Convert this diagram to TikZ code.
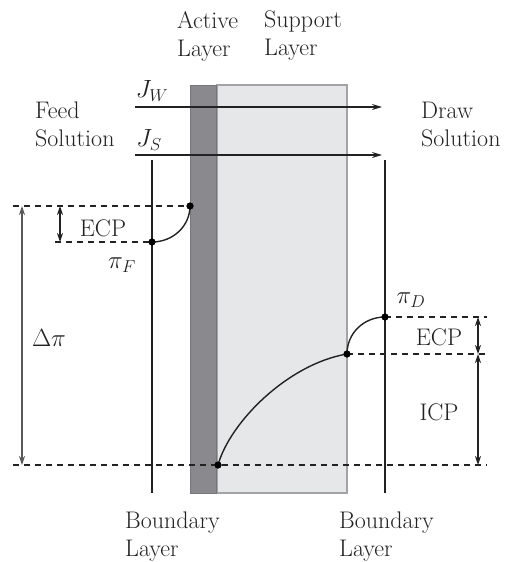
\documentclass[tikz,border=0pt]{standalone}
\usetikzlibrary{arrows.meta}
\definecolor{activegray}{HTML}{8A8A8E}
\definecolor{activeedge}{HTML}{77777B}
\definecolor{supportgray}{HTML}{E6E7E9}
\definecolor{supportedge}{HTML}{A3A3A6}
\definecolor{inkdark}{HTML}{222222}
\begin{document}
\begin{tikzpicture}[x=1pt,y=-1pt,
  lbl/.style={inner sep=0pt,font=\fontsize{24}{28}\selectfont,text=inkdark},
  blk/.style={lbl,align=left,anchor=west},
  dashline/.style={draw=inkdark,line width=1.2pt,dash pattern=on 6pt off 5pt},
  flux/.style={draw=inkdark,line width=1.4pt,-{Stealth[length=10pt,width=6pt]}},
  dim/.style={draw=inkdark,line width=1.2pt,{Stealth[length=9pt,width=6pt]}-{Stealth[length=9pt,width=6pt]}},
  bline/.style={draw=inkdark,line width=1.3pt},
  curve/.style={draw=inkdark,line width=1.4pt},
  dot/.style={circle,fill=black,inner sep=0pt,minimum size=7pt}]
\useasboundingbox (0,0) rectangle (508,562);
% layers
\fill[supportgray,draw=supportedge,line width=1.5pt] (217,85) rectangle (347,493);
\fill[activegray,draw=activeedge,line width=1pt] (190,85) rectangle (216,493);
% boundary layer lines
\coordinate (blt) at (152,160); \coordinate (blb) at (152,493);
\coordinate (brt) at (385,160); \coordinate (brb) at (385,493);
\draw[bline] (blt) -- (blb);
\draw[bline] (brt) -- (brb);
% key points
\node[dot] (ptop) at (190,206) {};
\node[dot] (pF) at (152,242) {};
\node[dot] (pbot) at (218,465) {};
\node[dot] (pmid) at (347,354) {};
\node[dot] (pD) at (385,317) {};
% dashed levels
\coordinate (dtl) at (13,206);
\coordinate (dfl) at (55,242);
\coordinate (dbl) at (13,465);
\coordinate (dbr) at (487,465);
\coordinate (ddr) at (487,317);
\coordinate (dmr) at (487,354);
\draw[dashline] (dtl) -- (ptop.center);
\draw[dashline] (dfl) -- (pF.center);
\draw[dashline] (dbl) -- (dbr);
\draw[dashline] (pD.center) -- (ddr);
\draw[dashline] (pmid.center) -- (dmr);
% profiles
\draw[curve] (pF.center) .. controls (173,242) and (190,226) .. (ptop.center);
\draw[curve] (pbot.center) .. controls (230,422) and (288,364) .. (pmid.center);
\draw[curve] (pmid.center) .. controls (347,333) and (364,317) .. (pD.center);
% redraw dots on top
\fill[black] (ptop) circle (3.5pt) (pF) circle (3.5pt) (pbot) circle (3.5pt) (pmid) circle (3.5pt) (pD) circle (3.5pt);
% fluxes
\coordinate (jws) at (135,107); \coordinate (jwe) at (382,107);
\coordinate (jss) at (135,155); \coordinate (jse) at (382,155);
\draw[flux] (jws) -- (jwe);
\draw[flux] (jss) -- (jse);
% dimension arrows
\coordinate (dpt) at (22,206); \coordinate (dpb) at (22,465);
\coordinate (elt) at (60,206); \coordinate (elb) at (60,242);
\coordinate (ert) at (478,317); \coordinate (erm) at (478,354); \coordinate (erb) at (478,465);
\draw[dim,draw=gray!70!black] (dpt) -- (dpb);
\draw[dim] (elt) -- (elb);
\draw[dim] (ert) -- (erm);
\draw[dim] (erm) -- (erb);
% labels
\node[blk] (active) at (177,36) {Active\\Layer};
\node[blk] (support) at (264,36) {Support\\Layer};
\node[blk] (feed) at (35,124) {Feed\\Solution};
\node[blk] (draw) at (421,124) {Draw\\Solution};
\node[blk] (bl1) at (125,537) {Boundary\\Layer};
\node[blk] (bl2) at (339,537) {Boundary\\Layer};
\node[lbl] (jw) at (152,91) {$J_W$};
\node[lbl] (js) at (149,140) {$J_S$};
\node[lbl] (piF) at (122,265) {$\pi_F$};
\node[lbl] (piD) at (411,300) {$\pi_D$};
\node[lbl] (dpi) at (49,338) {$\Delta\pi$};
\node[lbl] (ecpl) at (103,228) {ECP};
\node[lbl] (ecpr) at (439,337) {ECP};
\node[lbl] (icp) at (439,412) {ICP};
\end{tikzpicture}
\end{document}
